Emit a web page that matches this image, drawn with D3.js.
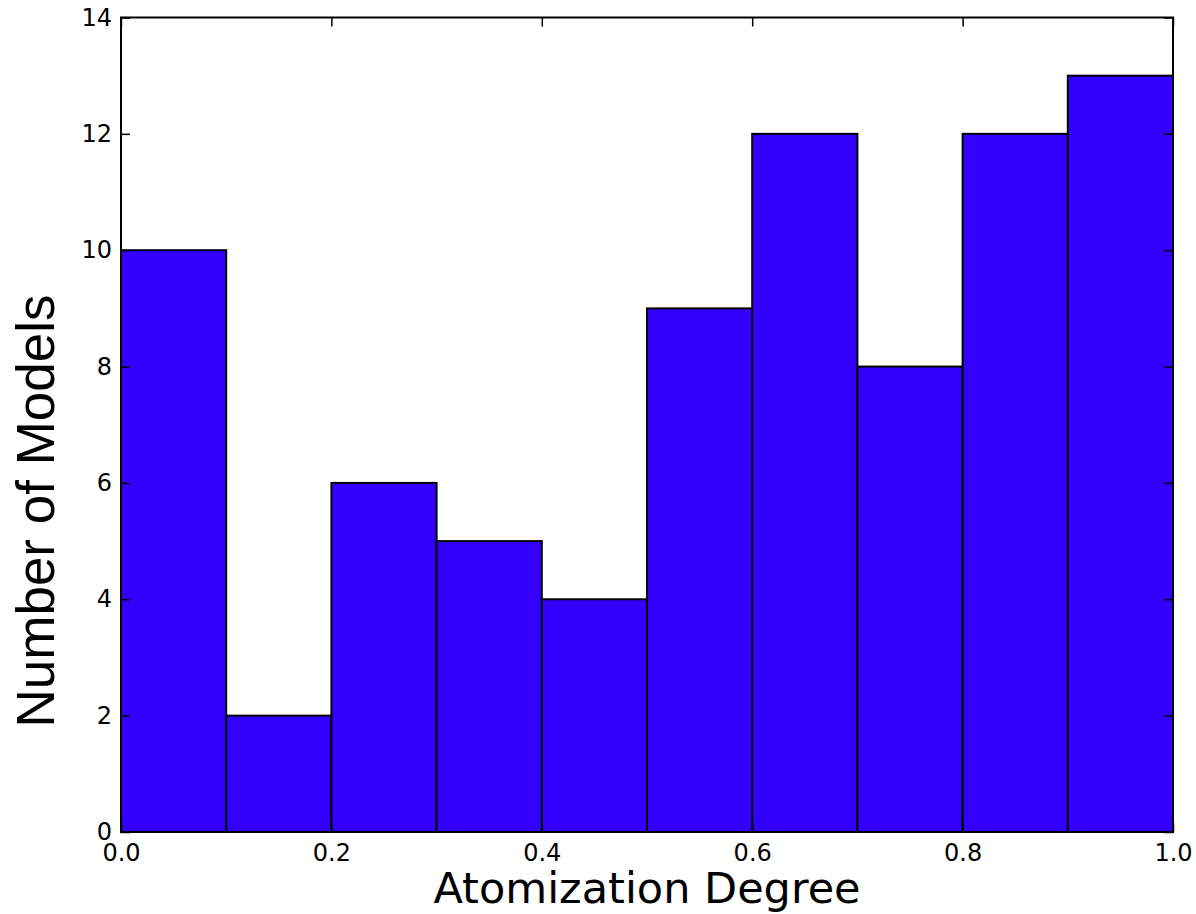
<!DOCTYPE html>
<html>
<head>
<meta charset="utf-8">
<script src="https://cdn.jsdelivr.net/npm/d3@7"></script>
<style>
  body { margin: 0; background: #fff; }
  text { fill: #000; }
</style>
</head>
<body>
<div id="canvas"></div>
<script>
// histogram bins (left edges) and counts
var binStarts = [0.0, 0.1, 0.2, 0.3, 0.4, 0.5, 0.6, 0.7, 0.8, 0.9];
var binWidth = 0.1;
var counts = [10, 2, 6, 5, 4, 9, 12, 8, 12, 13];
var xTicks = [0.0, 0.2, 0.4, 0.6, 0.8, 1.0];
var yTicks = [0, 2, 4, 6, 8, 10, 12, 14];

function run() {
  var width = 1196,
    height = 914;
  var left = 121, right = 1173, top = 17.5, bottom = 832;

  var svg = d3
    .select("#canvas")
    .append("svg")
    .attr("width", width)
    .attr("height", height);

  var x = d3.scaleLinear().domain([0, 1]).range([left, right]);
  var y = d3.scaleLinear().domain([0, 14]).range([bottom, top]);

  // bars
  svg
    .append("g")
    .selectAll("rect")
    .data(binStarts)
    .enter()
    .append("rect")
    .attr("x", function(d) { return x(d); })
    .attr("y", function(d, i) { return y(counts[i]); })
    .attr("width", function(d) { return x(d + binWidth) - x(d); })
    .attr("height", function(d, i) { return y(0) - y(counts[i]); })
    .style("fill", "#3300ff")
    .style("stroke", "#000")
    .style("stroke-width", 2);

  var tickLen = 9;
  var fmtX = d3.format(".1f");

  // axes: ticks point inward, as matplotlib does
  svg.append("g")
    .attr("transform", "translate(0," + bottom + ")")
    .call(d3.axisBottom(x).tickValues(xTicks).tickFormat(fmtX).tickSizeInner(-tickLen).tickSizeOuter(0).tickPadding(12))
    .call(styleAxis);

  svg.append("g")
    .attr("transform", "translate(0," + top + ")")
    .call(d3.axisTop(x).tickValues(xTicks).tickFormat("").tickSizeInner(-tickLen).tickSizeOuter(0))
    .call(styleAxis);

  svg.append("g")
    .attr("transform", "translate(" + left + ",0)")
    .call(d3.axisLeft(y).tickValues(yTicks).tickFormat(d3.format("d")).tickSizeInner(-tickLen).tickSizeOuter(0).tickPadding(9))
    .call(styleAxis);

  svg.append("g")
    .attr("transform", "translate(" + right + ",0)")
    .call(d3.axisRight(y).tickValues(yTicks).tickFormat("").tickSizeInner(-tickLen).tickSizeOuter(0))
    .call(styleAxis);

  function styleAxis(g) {
    g.select(".domain").remove();
    g.selectAll(".tick line").style("stroke", "#000").style("stroke-width", 1.5);
    g.selectAll(".tick text")
      .style("font-family", "DejaVu Sans")
      .style("font-size", "24px")
      .style("fill", "#000");
  }

  // frame
  svg.append("rect")
    .attr("x", left)
    .attr("y", top)
    .attr("width", right - left)
    .attr("height", bottom - top)
    .style("fill", "none")
    .style("stroke", "#000")
    .style("stroke-width", 2);

  svg.append("text")
    .attr("x", (left + right) / 2)
    .attr("y", 903)
    .attr("text-anchor", "middle")
    .style("font-family", "DejaVu Sans")
    .style("font-size", "43px")
    .text("Atomization Degree");

  svg.append("text")
    .attr("transform", "translate(54,511) rotate(-90)")
    .attr("text-anchor", "middle")
    .style("font-family", "Liberation Sans")
    .style("font-size", "53px")
    .text("Number of Models");
}

(function() {
  run();
})();
</script>
</body>
</html>
